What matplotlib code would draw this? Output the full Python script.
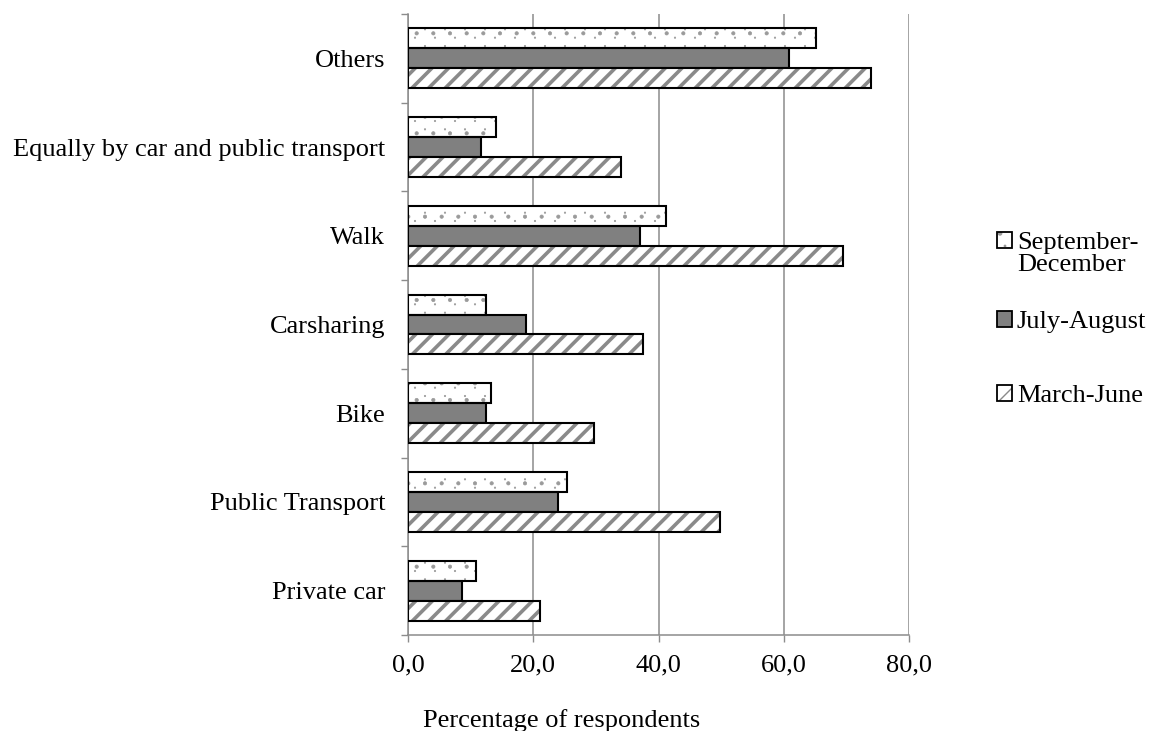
import numpy as np
import matplotlib
matplotlib.use("Agg")
import matplotlib.pyplot as plt
from matplotlib import hatch as mhatch
from matplotlib.path import Path
from matplotlib.patches import Patch
from matplotlib.ticker import FuncFormatter

# data (percentage of respondents)
categories = ["Private car", "Public Transport", "Bike", "Carsharing",
              "Walk", "Equally by car and public transport", "Others"]
sep_dec = [10.9, 25.4, 13.3, 12.5, 41.2, 14.0, 65.2]
jul_aug = [8.6, 23.9, 12.5, 18.9, 37.1, 11.7, 60.8]
mar_jun = [21.1, 49.8, 29.7, 37.6, 69.4, 34.0, 74.0]
series_names = ["September-", "July-August", "March-June"]
xticks = [0, 20, 40, 60, 80]


# ---------------------------------------------------------------------
# Sparse staggered dot pattern (like Excel's "5%" fill) used for '.'
# ---------------------------------------------------------------------
class SparseDots(mhatch.HatchPatternBase):
    def __init__(self, hatch, density):
        circ = Path.unit_circle()
        self.shape_vertices = circ.vertices * 0.007
        self.shape_codes = circ.codes
        self.centers = []
        if '.' in hatch:
            n_rows, n_cols = 12, 5
            for r in range(n_rows):
                shift = 0.5 / n_cols if r % 2 else 0.0
                for c in range(n_cols):
                    self.centers.append((c / n_cols + shift + 0.05, r / n_rows + 0.04))
        self.num_vertices = len(self.centers) * len(self.shape_vertices)

    def set_vertices_and_codes(self, vertices, codes):
        n = len(self.shape_vertices)
        for i, (cx, cy) in enumerate(self.centers):
            vertices[i * n:(i + 1) * n] = self.shape_vertices + (cx, cy)
            codes[i * n:(i + 1) * n] = self.shape_codes


mhatch._hatch_types = [SparseDots if t is mhatch.SmallCircles else t
                       for t in mhatch._hatch_types]

plt.rcParams['font.family'] = ['Liberation Serif', 'DejaVu Serif']

FS = 19
GRAY = '#8c8c8c'
HATCH_GRAY = '#8a8a8a'

fig = plt.figure(figsize=(11.52, 7.31), dpi=100)
ax = fig.add_axes([408 / 1152, 1 - 635 / 731, (909 - 408) / 1152, (635 - 14) / 731])

y = np.arange(len(categories))
h = 0.225

# styles for each series: (facecolor, hatch, hatch colour, hatch linewidth)
styles = [('white', '.', '#9a9a9a', 0.5), ('#808080', None, None, 1.0),
          ('white', '//', HATCH_GRAY, 2.6)]
offsets = [h, 0, -h]
values = [sep_dec, jul_aug, mar_jun]

handles = []
for vals, off, (fc, hatch, hc, hlw) in zip(values, offsets, styles):
    with plt.rc_context({'hatch.linewidth': hlw}):
        if hatch:
            # hatch in gray, then black outline on top
            ax.barh(y + off, vals, height=h, color=fc, edgecolor=hc,
                    hatch=hatch, linewidth=0, zorder=3)
            ax.barh(y + off, vals, height=h, fill=False, edgecolor='black',
                    linewidth=1.5, zorder=4)
            hd = (Patch(facecolor=fc, edgecolor=hc, hatch=hatch, linewidth=0),
                  Patch(fill=False, edgecolor='black', linewidth=1.3))
        else:
            ax.barh(y + off, vals, height=h, color=fc, edgecolor='black',
                    linewidth=1.5, zorder=3)
            hd = Patch(facecolor=fc, edgecolor='black', linewidth=1.3)
    handles.append(hd)

ax.set_xlim(0, 80)
ax.set_ylim(-0.5, len(categories) - 0.5)

ax.set_xticks(xticks)
ax.xaxis.set_major_formatter(FuncFormatter(lambda v, p: f"{v:.1f}".replace('.', ',')))
ax.tick_params(axis='x', direction='out', length=5, width=1, color=GRAY,
               labelsize=FS, pad=9)
ax.grid(axis='x', color=GRAY, linewidth=1.1, zorder=0)

ax.set_yticks(y)
ax.set_yticklabels(categories)
ax.set_yticks(np.arange(-0.5, len(categories)), minor=True)
ax.tick_params(axis='y', which='major', length=0, labelsize=FS, pad=16.5)
ax.tick_params(axis='y', which='minor', direction='out', length=5, width=1, color=GRAY)

for s in ['top', 'right']:
    ax.spines[s].set_visible(False)
for s in ['left', 'bottom']:
    ax.spines[s].set_color(GRAY)
    ax.spines[s].set_linewidth(1.1)

fig.text(562 / 1152, 1 - 727 / 731, "Percentage of respondents", fontsize=FS,
         ha='center', va='baseline')

# legend entries placed one by one (uneven spacing as in the reference)
leg_y = [243, 322, 396]
for hd, name, ly in zip(handles, series_names, leg_y):
    fig.legend([hd], [name], loc='center left',
               bbox_to_anchor=(997 / 1152, 1 - ly / 731),
               frameon=False, fontsize=FS, handlelength=0.55,
               handleheight=0.55, handletextpad=0.2, borderpad=0,
               borderaxespad=0)
# second line of the first legend label
fig.text(1017 / 1152, 1 - 265 / 731, "December", fontsize=FS,
         ha='left', va='center')

fig.savefig("out.png", dpi=100)
